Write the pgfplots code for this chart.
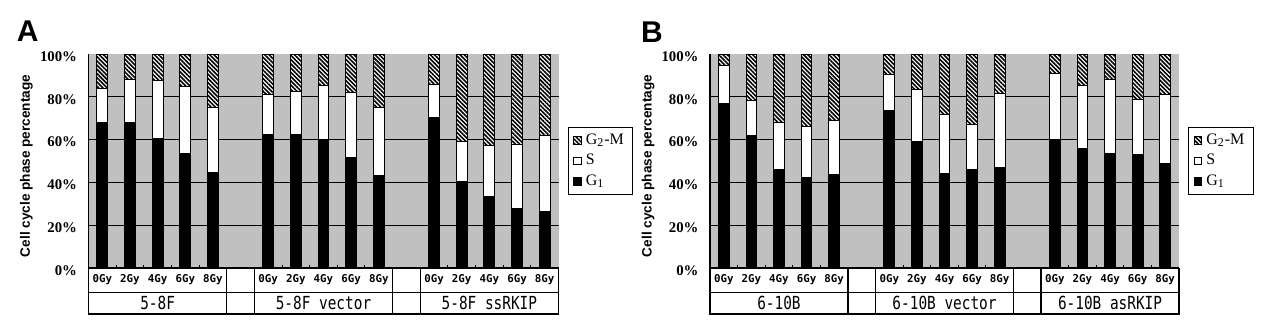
\documentclass[border=0pt]{standalone}
\usepackage{fontspec}
\setmainfont{Liberation Serif}
\newfontfamily\sansb{Liberation Sans}
\newfontfamily\mono{DejaVu Sans Mono}
\usepackage{pgfplots}
\usepackage{pgfplotstable}
\pgfplotsset{compat=1.18}
\usetikzlibrary{patterns.meta}
\definecolor{bggray}{RGB}{192,192,192}

\pgfplotstableread{
x g1 s g2m
0 67.8 16.0 16.2
1 67.8 20.4 11.8
2 60.7 26.8 12.5
3 53.3 31.4 15.3
4 44.7 30.5 24.8
6 62.6 18.7 18.7
7 62.6 19.8 17.6
8 60.0 25.2 14.8
9 51.7 30.2 18.1
10 43.3 31.5 25.2
12 70.4 15.3 14.3
13 40.3 18.9 40.8
14 33.2 24.1 42.7
15 28.0 29.6 42.4
16 26.6 35.4 38.0
}\dataA

\pgfplotstableread{
x g1 s g2m
0 76.8 17.9 5.3
1 62.0 16.3 21.7
2 46.1 21.7 32.2
3 42.2 24.0 33.8
4 43.8 25.2 31.0
6 73.5 16.8 9.7
7 58.9 24.7 16.4
8 44.2 27.6 28.2
9 46.1 21.0 32.9
10 47.0 34.5 18.5
12 60.1 30.7 9.2
13 55.9 29.5 14.6
14 53.6 34.6 11.8
15 53.1 25.6 21.3
16 48.9 32.4 18.7
}\dataB

\tikzset{grouplab/.style={font=\mono\fontsize{9}{10}\selectfont, xscale=0.8}}

\pgfplotsset{
  cellaxis/.style={
    scale only axis, width=235pt, height=107pt,
    anchor=south west, clip=false,
    ybar stacked, bar width=0.39,
    xmin=-0.5, xmax=16.5, ymin=0, ymax=100,
    axis background/.style={fill=bggray},
    axis x line*=bottom, axis y line*=left,
    x axis line style={-, line width=0.7pt},
    y axis line style={-, line width=0.7pt},
    ytick={0,20,40,60,80,100},
    yticklabels={0\%,20\%,40\%,60\%,80\%,100\%},
    yticklabel style={font=\bfseries\fontsize{7.4}{8}\selectfont, anchor=east, xshift=-2.2pt, yshift=-1.2pt},
    extra y ticks={20,40,60,80}, extra y tick labels={},
    extra y tick style={ymajorgrids=true, major tick length=0pt},
    major grid style={black, line width=0.5pt},
    major tick length=0pt,
    xtick={0,1,2,3,4,6,7,8,9,10,12,13,14,15,16},
    xticklabels={0Gy,2Gy,4Gy,6Gy,8Gy,0Gy,2Gy,4Gy,6Gy,8Gy,0Gy,2Gy,4Gy,6Gy,8Gy},
    xticklabel style={font=\mono\bfseries\fontsize{5.4}{6}\selectfont, anchor=center, yshift=-6pt},
    minor xtick={0.5,1.5,2.5,3.5,6.5,7.5,8.5,9.5,12.5,13.5,14.5,15.5},
    minor tick length=1.6pt, tick align=inside,
    minor tick style={black, line width=0.5pt},
    every axis y label/.style={at={(axis description cs:-0.132,0.477)}, rotate=90, anchor=center,
      font=\sansb\bfseries\fontsize{6.8}{7}\selectfont},
    ylabel={Cell cycle phase percentage},
    legend style={at={(1.02,0.5)}, anchor=west, draw=black, line width=0.5pt,
      font=\fontsize{8}{9}\selectfont, row sep=-0.6pt, inner xsep=2.5pt, inner ysep=1pt,
      legend cell align=left},
    reverse legend,
    legend image code/.code={\draw[##1, line width=0.4pt] (0pt,-1.9pt) rectangle (3.8pt,1.9pt);},
  },
  g1bar/.style={draw=black, fill=black, line width=0.5pt},
  sbar/.style={draw=black, fill=white, line width=0.5pt},
  g2bar/.style={draw=black, fill=white, line width=0.5pt,
    postaction={pattern={Lines[angle=-45, distance=1.5pt, line width=0.8pt]}}},
}

\newcommand\tablelines{%
  \draw[line width=0.6pt] (axis cs:-0.5,0) -- (axis cs:-0.5,-21.5) -- (axis cs:16.5,-21.5) -- (axis cs:16.5,0);
  \draw[line width=0.6pt] (axis cs:-0.5,-11.5) -- (axis cs:16.5,-11.5);
  \pgfplotsinvokeforeach{4.5,5.5,10.5,11.5}{\draw[line width=0.6pt] (axis cs:##1,0) -- (axis cs:##1,-21.5);}
}

\begin{document}
\begin{tikzpicture}
\path[use as bounding box] (0,0) rectangle (631.5pt,-166.5pt);

\begin{axis}[cellaxis, at={(44.25pt,-134pt)}]
  \addplot[g1bar] table[x=x, y=g1] {\dataA};
  \addplot[sbar] table[x=x, y=s] {\dataA};
  \addplot[g2bar] table[x=x, y=g2m] {\dataA};
  \legend{G\textsubscript{1}, S, G\textsubscript{2}-M}
  \tablelines
  \node[grouplab] at (axis cs:2,-16.4) {5-8F};
  \node[grouplab] at (axis cs:8,-16.4) {5-8F vector};
  \node[grouplab] at (axis cs:14,-16.4) {5-8F ssRKIP};
\end{axis}

\begin{axis}[cellaxis, at={(355pt,-134pt)}, width=234.5pt]
  \addplot[g1bar] table[x=x, y=g1] {\dataB};
  \addplot[sbar] table[x=x, y=s] {\dataB};
  \addplot[g2bar] table[x=x, y=g2m] {\dataB};
  \legend{G\textsubscript{1}, S, G\textsubscript{2}-M}
  \tablelines
  \node[grouplab] at (axis cs:2,-16.4) {6-10B};
  \node[grouplab] at (axis cs:8,-16.4) {6-10B vector};
  \node[grouplab] at (axis cs:14,-16.4) {6-10B asRKIP};
\end{axis}

\node[font=\sansb\bfseries\fontsize{15}{15}\selectfont] at (13.8pt,-15.5pt) {A};
\node[font=\sansb\bfseries\fontsize{15}{15}\selectfont] at (326pt,-16pt) {B};
\end{tikzpicture}
\end{document}
